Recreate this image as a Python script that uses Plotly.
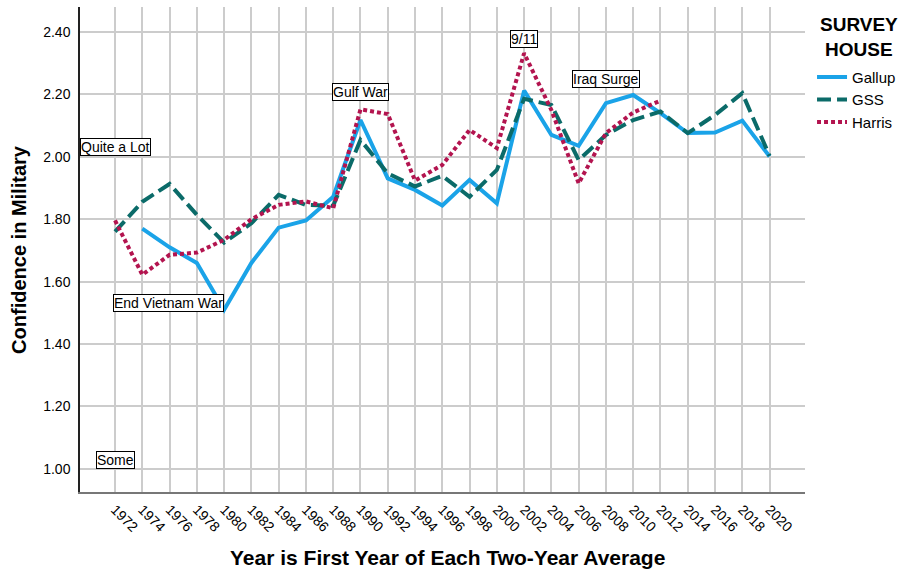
import plotly.graph_objects as go

years = list(range(1972, 2022, 2))
tick_labels = [str(y) for y in years]

gallup_years = list(range(1974, 2022, 2))
gallup = [1.77, 1.71, 1.66, 1.51, 1.66, 1.773, 1.796, 1.872, 2.118, 1.931, 1.894, 1.844,
          1.926, 1.851, 2.212, 2.070, 2.035, 2.172, 2.198, 2.140, 2.076, 2.078, 2.116, 2.001]

gss_years = list(range(1972, 2022, 2))
gss = [1.760, 1.856, 1.913, 1.814, 1.725, 1.787, 1.878, 1.846, 1.843, 2.054, 1.947, 1.905,
       1.939, 1.872, 1.958, 2.186, 2.166, 1.990, 2.070, 2.118, 2.145, 2.076, 2.134, 2.204, 2.003]

harris_years = list(range(1972, 2014, 2))
harris = [1.796, 1.622, 1.686, 1.693, 1.734, 1.800, 1.846, 1.857, 1.835, 2.152, 2.137, 1.924,
          1.974, 2.086, 2.028, 2.332, 2.150, 1.915, 2.076, 2.142, 2.180]

event_labels = ["End Vietnam War", "Gulf War", "9/11", "Iraq Surge"]
event_x = [1975.9, 1990, 2002, 2008]
event_y = [1.53, 2.208, 2.379, 2.249]

scale_labels = ["Quite a Lot", "Some"]
scale_x = [1972, 1972]
scale_y = [2.03, 1.03]

legend_title = "SURVEY<br>HOUSE"

y_ticks = [1.0, 1.2, 1.4, 1.6, 1.8, 2.0, 2.2, 2.4]

FONT = "Liberation Sans, Arial, sans-serif"

fig = go.Figure()
fig.add_trace(go.Scatter(x=gallup_years, y=gallup, mode="lines", name="Gallup",
                         line=dict(color="#1AA3E8", width=4)))
fig.add_trace(go.Scatter(x=gss_years, y=gss, mode="lines", name="GSS",
                         line=dict(color="#0B6B69", width=4, dash="14px,6px")))
fig.add_trace(go.Scatter(x=harris_years, y=harris, mode="lines", name="Harris",
                         line=dict(color="#B3144F", width=4, dash="4px,3px")))

for t, x, y in zip(event_labels + scale_labels, event_x + scale_x, event_y + scale_y):
    fig.add_annotation(x=x, y=y, text=t, showarrow=False, xref="x", yref="y",
                       font=dict(family=FONT, size=14, color="#000"),
                       bgcolor="white", bordercolor="black", borderwidth=1, borderpad=0)

# legend title, centred above the legend entries
fig.add_annotation(x=1.075, y=0.939, xref="paper", yref="paper", text=f"<b>{legend_title}</b>",
                   showarrow=False, xanchor="center", yanchor="middle", align="center",
                   font=dict(family=FONT, size=19, color="#000"))

fig.add_annotation(x=-0.085, y=0.5, xref="paper", yref="paper", text="<b>Confidence in Military</b>",
                   textangle=-90, showarrow=False, xanchor="center", yanchor="middle",
                   font=dict(family=FONT, size=20, color="#000"))
fig.add_annotation(x=0.507, y=-0.136, xref="paper", yref="paper",
                   text="<b>Year is First Year of Each Two-Year Average</b>",
                   showarrow=False, xanchor="center", yanchor="middle",
                   font=dict(family=FONT, size=21, color="#000"))

fig.update_layout(
    width=904, height=572,
    margin=dict(l=80, r=99, t=7, b=80, autoexpand=False),
    paper_bgcolor="white", plot_bgcolor="white",
    font=dict(family=FONT, size=14, color="#000"),
    legend=dict(
        x=1.0097, y=0.889, xanchor="left", yanchor="top",
        font=dict(family=FONT, size=15, color="#000"),
        tracegroupgap=0, itemwidth=30,
    ),
    xaxis=dict(
        range=[1969.43, 2022.6], tickmode="array", tickvals=years, ticktext=tick_labels,
        tickangle=45, showgrid=True, gridcolor="#CCCCCC", gridwidth=1.5,
        showline=True, linecolor="#777777", linewidth=2, zeroline=False,
        tickfont=dict(family=FONT, size=14, color="#000"), ticklabelstandoff=2,
    ),
    yaxis=dict(
        range=[0.926, 2.48], tickmode="array", tickvals=y_ticks,
        ticktext=[f"{v:.2f}" for v in y_ticks],
        showgrid=True, gridcolor="#CCCCCC", gridwidth=1.5,
        showline=True, linecolor="#222222", linewidth=1.5, zeroline=False,
        tickfont=dict(family=FONT, size=14, color="#000"), ticklabelstandoff=5,
    ),
)

fig.write_html("out.html", config={"displayModeBar": False},
               post_script="document.body.style.margin='0';document.body.style.overflow='hidden';")
